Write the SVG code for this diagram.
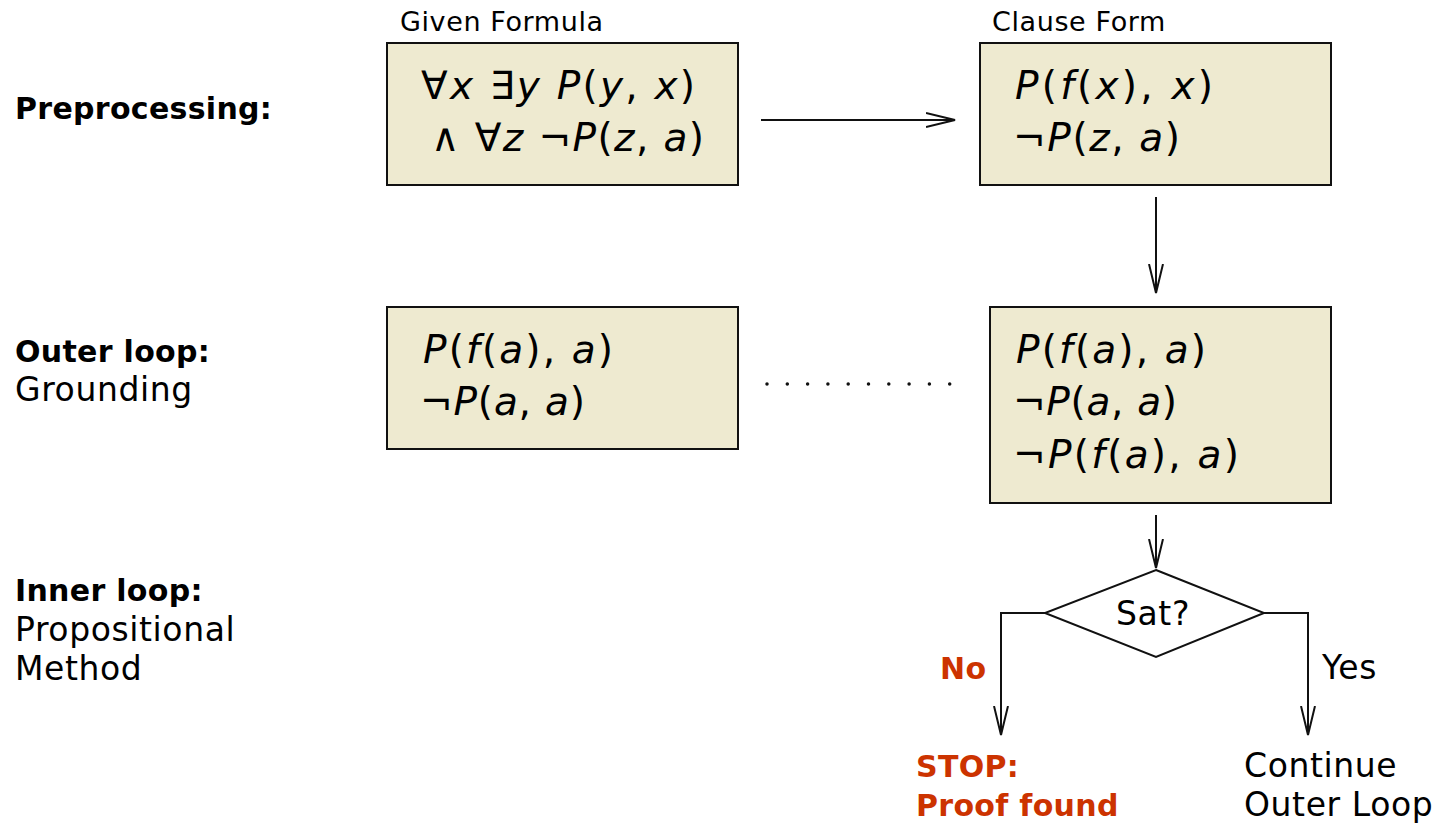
<svg xmlns="http://www.w3.org/2000/svg" width="1447" height="827" viewBox="0 0 1447 827">
<style>
.box{fill:#EEEAD0;stroke:#111;stroke-width:2}
.lbl{font-family:"DejaVu Sans","Liberation Sans",sans-serif;fill:#000;font-size:33px;letter-spacing:0.6px}
.b{font-weight:bold;font-size:30px;letter-spacing:0.3px}
.hd{font-size:27px;letter-spacing:0.6px}
.m{font-family:"DejaVu Sans","Liberation Sans",sans-serif;font-size:39px;fill:#000}
.i{font-style:italic}
.red{fill:#CC3300}
.c{fill:none;stroke:#111;stroke-width:2}
</style>
<defs>
<marker id="ah" markerUnits="userSpaceOnUse" viewBox="0 0 30 16" refX="29" refY="8" markerWidth="30" markerHeight="16" orient="auto">
<path d="M0,1 L29,8 L0,15" fill="none" stroke="#111" stroke-width="2"/>
</marker>
</defs>
<g id="side-labels">
<text class="lbl b" x="15" y="119">Preprocessing:</text>
<text class="lbl b" x="15" y="362">Outer loop:</text>
<text class="lbl" x="15" y="401">Grounding</text>
<text class="lbl b" x="15" y="601">Inner loop:</text>
<text class="lbl" x="15" y="641">Propositional</text>
<text class="lbl" x="15" y="680">Method</text>
</g>
<g id="given">
<text class="lbl hd" x="400" y="31">Given Formula</text>
<rect class="box" x="387" y="43" width="351" height="142"/>
<text class="m" x="421" y="99" textLength="274" lengthAdjust="spacing">∀<tspan class="i">x</tspan> ∃<tspan class="i">y</tspan> <tspan class="i">P</tspan>(<tspan class="i">y</tspan>, <tspan class="i">x</tspan>)</text>
<text class="m" x="431" y="151" textLength="273" lengthAdjust="spacing">∧ ∀<tspan class="i">z</tspan> ¬<tspan class="i">P</tspan>(<tspan class="i">z</tspan>, <tspan class="i">a</tspan>)</text>
</g>
<g id="clause">
<text class="lbl hd" x="992" y="31">Clause Form</text>
<rect class="box" x="980" y="43" width="351" height="142"/>
<text class="m" x="1015" y="99" textLength="198" lengthAdjust="spacing"><tspan class="i">P</tspan>(<tspan class="i">f</tspan>(<tspan class="i">x</tspan>), <tspan class="i">x</tspan>)</text>
<text class="m" x="1013" y="151" textLength="167" lengthAdjust="spacing">¬<tspan class="i">P</tspan>(<tspan class="i">z</tspan>, <tspan class="i">a</tspan>)</text>
</g>
<g id="ground1">
<rect class="box" x="387" y="307" width="351" height="142"/>
<text class="m" x="423" y="363" textLength="190" lengthAdjust="spacing"><tspan class="i">P</tspan>(<tspan class="i">f</tspan>(<tspan class="i">a</tspan>), <tspan class="i">a</tspan>)</text>
<text class="m" x="420" y="415" textLength="165" lengthAdjust="spacing">¬<tspan class="i">P</tspan>(<tspan class="i">a</tspan>, <tspan class="i">a</tspan>)</text>
</g>
<g id="ground2">
<rect class="box" x="990" y="307" width="341" height="196"/>
<text class="m" x="1016" y="363" textLength="190" lengthAdjust="spacing"><tspan class="i">P</tspan>(<tspan class="i">f</tspan>(<tspan class="i">a</tspan>), <tspan class="i">a</tspan>)</text>
<text class="m" x="1013" y="415" textLength="164" lengthAdjust="spacing">¬<tspan class="i">P</tspan>(<tspan class="i">a</tspan>, <tspan class="i">a</tspan>)</text>
<text class="m" x="1013" y="468" textLength="226" lengthAdjust="spacing">¬<tspan class="i">P</tspan>(<tspan class="i">f</tspan>(<tspan class="i">a</tspan>), <tspan class="i">a</tspan>)</text>
</g>
<g id="sat">
<polygon points="1156,570 1264,613 1156,657 1045,613" fill="#fff" stroke="#111" stroke-width="2"/>
<text class="lbl" x="1153" y="625" font-size="37" letter-spacing="0" text-anchor="middle">Sat?</text>
</g>
<g id="stop">
<text class="lbl b red" x="916" y="777" font-size="32">STOP:</text>
<text class="lbl b red" x="916" y="816" font-size="31" letter-spacing="0.9">Proof found</text>
</g>
<g id="continue">
<text class="lbl" x="1244" y="777">Continue</text>
<text class="lbl" x="1244" y="816" letter-spacing="1.4">Outer Loop</text>
</g>
<g id="connectors">
<line class="c" x1="761" y1="120" x2="955" y2="120" marker-end="url(#ah)"/>
<line class="c" x1="1156" y1="197" x2="1156" y2="293" marker-end="url(#ah)"/>
<line class="c" x1="1156" y1="515" x2="1156" y2="568" marker-end="url(#ah)"/>
<polyline class="c" points="1045,613 1001,613 1001,735" marker-end="url(#ah)"/>
<polyline class="c" points="1264,613 1308,613 1308,735" marker-end="url(#ah)"/>
<line x1="767" y1="384" x2="950" y2="384" stroke="#111" stroke-width="3.5" stroke-linecap="round" stroke-dasharray="0 20.3"/>
<text class="lbl b red" x="940" y="679" font-size="32">No</text>
<text class="lbl" x="1322" y="679" letter-spacing="0">Yes</text>
</g>
</svg>
